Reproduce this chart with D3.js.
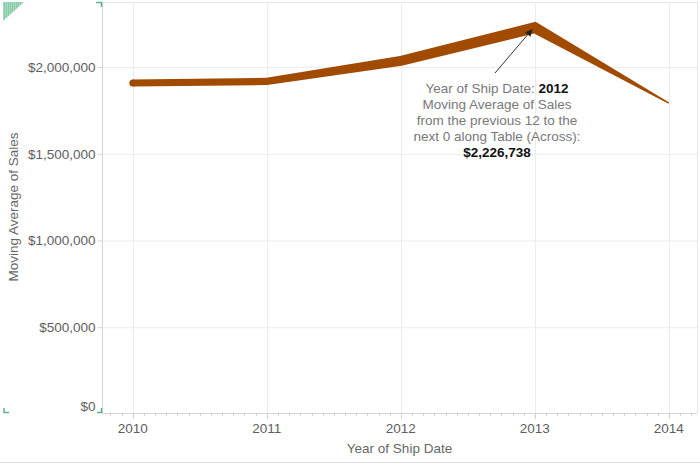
<!DOCTYPE html>
<html>
<head>
<meta charset="utf-8">
<script src="https://cdn.jsdelivr.net/npm/d3@7"></script>
<style>
  html, body { margin: 0; padding: 0; background: #fff; }
  svg { display: block; font-family: "Liberation Sans", Arial, sans-serif; }
</style>
</head>
<body>
<div id="chart"></div>
<script>
// data
const years = [2010, 2011, 2012, 2013, 2014];
const movingAvg = [1908000, 1917000, 2036000, 2226738, 1792000];
// relative size encoding of the mark (Tableau size shelf)
const sizeShare = [0.64, 0.66, 0.9, 1.0, 0.12];
const yTicks = [0, 500000, 1000000, 1500000, 2000000];
const tooltipLines = [
    [["Year of Ship Date: ", false], ["2012", true]],
    [["Moving Average of Sales", false]],
    [["from the previous 12 to the", false]],
    [["next 0 along Table (Across):", false]],
    [["$2,226,738", true]]
];

const W = 700, H = 464;
const plot = {left: 102, right: 697, top: 2, bottom: 414};

const svg = d3.select("#chart").append("svg")
    .attr("width", W)
    .attr("height", H);

const x = d3.scaleLinear().domain([2009.77, 2014.21]).range([plot.left, plot.right]);
const y = d3.scaleLinear().domain([0, 2375000]).range([plot.bottom, plot.top]);
const size = d3.scaleLinear().domain([0, 1]).range([0, 11]);

const fmt = d => "$" + d3.format(",")(d);

// gridlines
svg.append("g")
    .selectAll("line")
    .data(yTicks.slice(1))
    .enter().append("line")
    .attr("x1", plot.left).attr("x2", plot.right)
    .attr("y1", d => y(d) + 0.5).attr("y2", d => y(d) + 0.5)
    .attr("stroke", "#ececec");

svg.append("g")
    .selectAll("line")
    .data(years)
    .enter().append("line")
    .attr("x1", d => Math.round(x(d)) + 0.5).attr("x2", d => Math.round(x(d)) + 0.5)
    .attr("y1", plot.top).attr("y2", plot.bottom + 5)
    .attr("stroke", "#ececec");

// plot frame
svg.append("line")
    .attr("x1", plot.left).attr("x2", plot.right)
    .attr("y1", 2.5).attr("y2", 2.5)
    .attr("stroke", "#e6e6e6");
svg.append("line")
    .attr("x1", plot.right + 0.5).attr("x2", plot.right + 0.5)
    .attr("y1", 2).attr("y2", 413)
    .attr("stroke", "#e6e6e6");

// y axis
const yAxis = svg.append("g").attr("transform", `translate(${plot.left + 0.5},0)`);
yAxis.append("line")
    .attr("y1", 2).attr("y2", 413.5)
    .attr("stroke", "#d4d4d4");
yAxis.selectAll(".tick")
    .data(yTicks.slice(1))
    .enter().append("line")
    .attr("x1", -5).attr("x2", 0)
    .attr("y1", d => y(d) + 0.5).attr("y2", d => y(d) + 0.5)
    .attr("stroke", "#d4d4d4");
yAxis.selectAll("text")
    .data(yTicks)
    .enter().append("text")
    .attr("x", -7)
    .attr("y", d => d === 0 ? y(d) - 8 : y(d))
    .attr("dy", "0.35em")
    .attr("text-anchor", "end")
    .attr("font-size", "13.5px")
    .attr("fill", "#5e5e5e")
    .text(fmt);

svg.append("text")
    .attr("transform", "translate(18,207) rotate(-90)")
    .attr("text-anchor", "middle")
    .attr("font-size", "13.5px")
    .attr("fill", "#666")
    .text("Moving Average of Sales");

// x axis
const xAxis = svg.append("g").attr("transform", `translate(0,413.5)`);
xAxis.append("line")
    .attr("x1", plot.left).attr("x2", plot.right)
    .attr("stroke", "#d4d4d4");

const months = d3.range(Math.ceil(x.domain()[0] * 12), Math.floor(x.domain()[1] * 12) + 1)
    .map(m => m / 12)
    .filter(m => Math.abs(m - Math.round(m)) > 1e-6);
xAxis.selectAll(".minor")
    .data(months)
    .enter().append("line")
    .attr("x1", d => Math.round(x(d)) + 0.5).attr("x2", d => Math.round(x(d)) + 0.5)
    .attr("y1", 0).attr("y2", 2.5)
    .attr("stroke", "#cfcfcf");
xAxis.selectAll(".major")
    .data(years)
    .enter().append("line")
    .attr("x1", d => Math.round(x(d)) + 0.5).attr("x2", d => Math.round(x(d)) + 0.5)
    .attr("y1", 0).attr("y2", 5)
    .attr("stroke", "#cfcfcf");
xAxis.selectAll("text")
    .data(years)
    .enter().append("text")
    .attr("x", d => x(d))
    .attr("y", 19.5)
    .attr("text-anchor", "middle")
    .attr("font-size", "13.5px")
    .attr("fill", "#5e5e5e")
    .text(d => d);

svg.append("text")
    .attr("x", (plot.left + plot.right) / 2)
    .attr("y", 453)
    .attr("text-anchor", "middle")
    .attr("font-size", "13.5px")
    .attr("fill", "#666")
    .text("Year of Ship Date");

// bottom separator
svg.append("line")
    .attr("x1", 0).attr("x2", W)
    .attr("y1", 462.5).attr("y2", 462.5)
    .attr("stroke", "#dcdcdc");

// tapered line (size varies along the path)
const pts = years.map((yr, i) => ({px: x(yr), py: y(movingAvg[i]), w: size(sizeShare[i])}));
const upper = [], lower = [];
pts.forEach((p, i) => {
    const normals = [];
    if (i > 0) normals.push(normalOf(pts[i - 1], p));
    if (i < pts.length - 1) normals.push(normalOf(p, pts[i + 1]));
    let mx = d3.sum(normals, n => n[0]), my = d3.sum(normals, n => n[1]);
    const len = Math.hypot(mx, my);
    mx /= len; my /= len;
    const k = (p.w / 2) / (mx * normals[0][0] + my * normals[0][1]);
    upper.push([p.px + mx * k, p.py + my * k]);
    lower.push([p.px - mx * k, p.py - my * k]);
});

function normalOf(a, b) {
    const dx = b.px - a.px, dy = b.py - a.py;
    const l = Math.hypot(dx, dy);
    return [dy / l, -dx / l];
}

const lineColor = "#a04b00";
svg.append("path")
    .attr("d", d3.line()(upper.concat(lower.reverse())) + "Z")
    .attr("fill", lineColor);
svg.append("circle")
    .attr("cx", pts[0].px)
    .attr("cy", pts[0].py)
    .attr("r", pts[0].w / 2)
    .attr("fill", lineColor);

// annotation
const defs = svg.append("defs");
defs.append("marker")
    .attr("id", "arrow")
    .attr("viewBox", "0 0 10 10")
    .attr("refX", 10).attr("refY", 5)
    .attr("markerWidth", 8).attr("markerHeight", 7)
    .attr("markerUnits", "userSpaceOnUse")
    .attr("orient", "auto")
  .append("path")
    .attr("d", "M0,0L10,5L0,10Z")
    .attr("fill", "#222");

const target = pts[3];
svg.append("line")
    .attr("x1", 495).attr("y1", 73)
    .attr("x2", target.px - 2.5).attr("y2", target.py + 1.5)
    .attr("stroke", "#333")
    .attr("stroke-width", 1)
    .attr("marker-end", "url(#arrow)");

const tip = svg.append("text")
    .attr("text-anchor", "middle")
    .attr("font-size", "13.5px");
tooltipLines.forEach((line, i) => {
    const row = tip.append("tspan")
        .attr("x", 497)
        .attr("y", 93 + i * 16);
    line.forEach(([txt, bold]) => {
        row.append("tspan")
            .attr("fill", bold ? "#111" : "#787878")
            .attr("font-weight", bold ? "bold" : "normal")
            .text(txt);
    });
});

// tableau selection corner marks
const green = "#5fb38c";
const pat = defs.append("pattern")
    .attr("id", "hatch")
    .attr("width", 2).attr("height", 2)
    .attr("patternUnits", "userSpaceOnUse");
pat.append("rect").attr("width", 2).attr("height", 2).attr("fill", "#a8dcc0");
pat.append("rect").attr("width", 1).attr("height", 2).attr("fill", "#86c9a5");
svg.append("path")
    .attr("d", "M3,2L24,2L3,21Z")
    .attr("fill", "url(#hatch)");

const corner = [
    "M96,2.5H101.5V7",
    "M4,408V412.5H9",
    "M97,412.5H101.5V408"
];
svg.selectAll(".corner")
    .data(corner)
    .enter().append("path")
    .attr("d", d => d)
    .attr("fill", "none")
    .attr("stroke", green)
    .attr("stroke-width", 1.5);
</script>
</body>
</html>
